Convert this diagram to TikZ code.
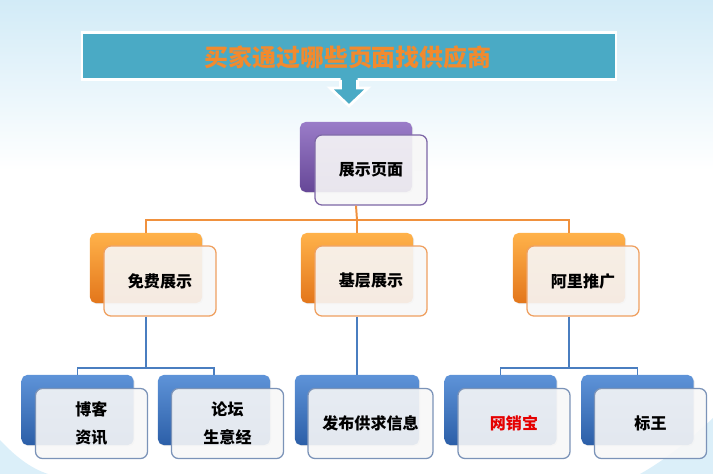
\documentclass[tikz,border=0pt]{standalone}
\usepackage{fontspec}
\setmainfont{Noto Sans CJK SC}
\usepackage{xcolor}
\usepackage{tikz}
\usetikzlibrary{shadows}

\definecolor{bgBlue}{HTML}{D2EBF7}
\definecolor{bannerBlue}{HTML}{4AAAC5}
\definecolor{titleOrg}{HTML}{F28A2E}
\definecolor{purpTop}{HTML}{9A7CC8}
\definecolor{purpBot}{HTML}{664797}
\definecolor{orgTop}{HTML}{FFB24A}
\definecolor{orgBot}{HTML}{E3761B}
\definecolor{bluTop}{HTML}{5E93D8}
\definecolor{bluBot}{HTML}{2C5FA8}
\definecolor{purpEdge}{HTML}{7D66A6}
\definecolor{orgEdge}{HTML}{EFA060}
\definecolor{bluEdge}{HTML}{7B93B8}
\definecolor{lineOrg}{HTML}{F0913E}
\definecolor{lineBlu}{HTML}{4A7EC0}

\begin{document}
\begin{tikzpicture}[
  x=0.025cm, y=-0.025cm,
  font=\fontsize{11.4}{20}\selectfont\bfseries,
  backbox/.style={rounded corners=4pt, minimum width=2.8cm, minimum height=1.75cm,
                  inner sep=0pt, drop shadow={opacity=0.2, shadow xshift=0.8pt, shadow yshift=-0.8pt}},
  purpbox/.style={backbox, top color=purpTop, bottom color=purpBot},
  orgbox/.style={backbox, top color=orgTop, bottom color=orgBot},
  blubox/.style={backbox, top color=bluTop, bottom color=bluBot},
  frontbox/.style={draw, line width=0.9pt, rounded corners=5pt, fill=black!3, fill opacity=0.9,
                   text opacity=1, minimum width=2.8cm, minimum height=1.75cm,
                   align=center, inner sep=1pt},
  titletxt/.style={font=\fontsize{17}{20}\selectfont\bfseries, text=titleOrg},
  oline/.style={draw=lineOrg, line width=1.4pt},
  bline/.style={draw=lineBlu, line width=1.4pt},
]
\useasboundingbox (0,0) rectangle (713,474);

% background
\shade[top color=bgBlue, bottom color=white] (0,0) rectangle (713,170);
\fill[bgBlue!80] (0,440) .. controls (15,456) and (30,468) .. (48,474) -- (0,474) -- cycle;
\fill[bgBlue!80] (713,418) .. controls (690,440) and (665,460) .. (640,474) -- (713,474) -- cycle;

% title banner
\node[draw=white, line width=2pt, fill=bannerBlue, minimum width=13.35cm, minimum height=1.175cm,
      drop shadow={opacity=0.3, shadow xshift=1pt, shadow yshift=-1pt}] (banner) at (349,56) {};
\fill[bannerBlue, shift={(banner.south)}] (-8.5,-3) -- (-8.5,7) -- (-19,7) -- (0,25) -- (19,7) -- (8.5,7) -- (8.5,-3) -- cycle;
\draw[white, line width=2pt, line join=miter, shift={(banner.south)}]
  (-8.5,-1) -- (-8.5,7) -- (-19,7) -- (0,25) -- (19,7) -- (8.5,7) -- (8.5,-1);
\node[titletxt] (title) at (348,57) {买家通过哪些页面找供应商};

% top level
\node[purpbox] (topb) at (356,157) {};
\node[frontbox, draw=purpEdge] (topf) at (371,170) {展示页面};

% second level
\node[orgbox] (freeb) at (146,268) {};
\node[frontbox, draw=orgEdge] (freef) at (160,281) {免费展示};
\node[orgbox] (baseb) at (357,268) {};
\node[frontbox, draw=orgEdge] (basef) at (371,281) {基层展示};
\node[orgbox] (alib) at (569,268) {};
\node[frontbox, draw=orgEdge] (alif) at (583,281) {阿里推广};

% third level
\node[blubox] (blogb) at (77.5,410) {};
\node[frontbox, draw=bluEdge] (blogf) at (91.5,423.5) {博客\\资讯};
\node[blubox] (forumb) at (214,410) {};
\node[frontbox, draw=bluEdge] (forumf) at (227.5,423.5) {论坛\\生意经};
\node[blubox, minimum width=3.1cm] (postb) at (357,410) {};
\node[frontbox, draw=bluEdge, minimum width=3.125cm] (postf) at (370.5,423.5) {发布供求信息};
\node[blubox] (wxbb) at (500.5,410) {};
\node[frontbox, draw=bluEdge, text=red!90!black] (wxbf) at (514,423.5) {网销宝};
\node[blubox] (bwb) at (637.5,410) {};
\node[frontbox, draw=bluEdge] (bwf) at (650.5,423.5) {标王};

% connectors
\coordinate (hub1) at (357,220);
\coordinate (hub2) at (146,368);
\coordinate (hub3) at (569,368);
\draw[oline] (topb |- topf.south) -- (hub1);
\draw[oline] (freeb.north) |- (hub1) -| (alib.north);
\draw[oline] (hub1) -- (baseb.north);
\draw[bline] (freeb |- freef.south) -- (hub2);
\draw[bline] (blogb.north) |- (hub2) -| (forumb.north);
\draw[bline] (baseb |- basef.south) -- (postb.north);
\draw[bline] (alib |- alif.south) -- (hub3);
\draw[bline] (wxbb.north) |- (hub3) -| (bwb.north);
\end{tikzpicture}
\end{document}
